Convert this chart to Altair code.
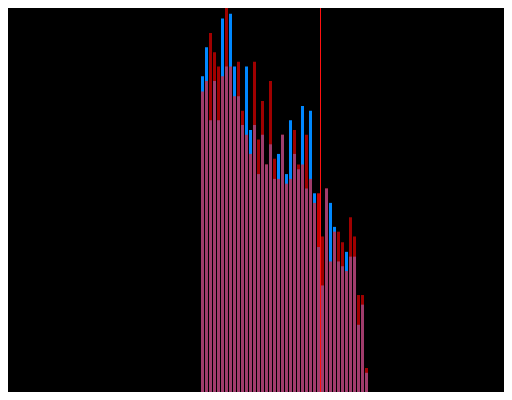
import altair as alt
import pandas as pd

# bin index 0..41
bins = list(range(42))
# heights of the two series (reference pixel units, 400 = full height)
blue = [329, 359, 283, 324, 283, 389, 339, 394, 339, 308, 278, 339, 273, 278, 227,
        268, 237, 258, 222, 248, 268, 227, 283, 248, 232, 298, 212, 293, 207, 151,
        111, 212, 197, 172, 136, 131, 146, 141, 141, 70, 91, 20]
red = [313, 324, 374, 354, 339, 329, 410, 339, 308, 344, 293, 268, 248, 344, 263,
       303, 237, 324, 243, 222, 268, 217, 222, 273, 237, 237, 268, 222, 197, 207,
       162, 212, 136, 167, 167, 156, 126, 182, 162, 101, 101, 25]
highlight_bins = [29]
marker = [29.875]

rows = []
for i, b, r in zip(bins, blue, red):
    if b > r:
        s = "blue"
    elif i in highlight_bins:
        s = "hl"
    else:
        s = "red"
    rows.append({"bin": i, "bin_end": i + 0.75, "top": max(b, r), "low": min(b, r), "series": s})
df = pd.DataFrame(rows)

W, H = 496, 384
xs = alt.Scale(domain=[-48.25, 75.75], range=[0, W])
ys = alt.Scale(domain=[0, 400], range=[H, 0])

base = alt.Chart(df)
tops = base.mark_bar(clip=True).encode(
    x=alt.X("bin:Q", scale=xs, axis=None),
    x2="bin_end:Q",
    y=alt.Y("top:Q", scale=ys, axis=None),
    y2=alt.datum(0),
    color=alt.Color("series:N",
                    scale=alt.Scale(domain=["blue", "red", "hl"],
                                    range=["#0088ff", "#a00000", "#c80000"]),
                    legend=None),
)
lows = base.mark_bar(clip=True, color="#a03c6c").encode(
    x=alt.X("bin:Q", scale=xs, axis=None),
    x2="bin_end:Q",
    y=alt.Y("low:Q", scale=ys, axis=None),
    y2=alt.datum(0),
)
line = alt.Chart(pd.DataFrame({"v": marker})).mark_rule(color="#ff1010", strokeWidth=1).encode(
    x=alt.X("v:Q", scale=xs, axis=None),
)

chart = alt.layer(tops, lows, line).properties(
    width=W, height=H, background="#000000", padding=0,
    autosize=alt.AutoSizeParams(type="none"),
).configure_view(strokeWidth=0)

chart.save("out.html", embed_options={"renderer": "svg", "actions": False})
